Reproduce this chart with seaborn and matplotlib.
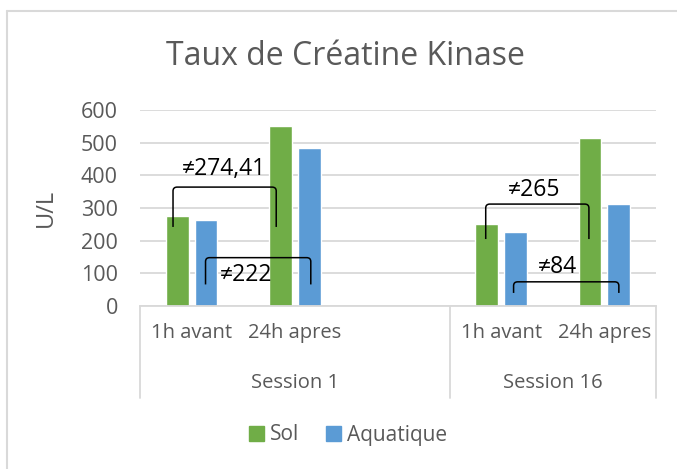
import matplotlib
matplotlib.use("Agg")
import matplotlib.pyplot as plt
import seaborn as sns
import pandas as pd
from matplotlib.path import Path
from matplotlib.patches import PathPatch, Rectangle
from matplotlib.lines import Line2D
import matplotlib.transforms as mtransforms

# ---- data ----
slots = ["S1-1h", "S1-24h", "S1-gap", "S16-1h", "S16-24h"]
slot_labels = ["1h avant", "24h apres", "", "1h avant", "24h apres"]
sessions = ["Session 1", "Session 16"]
session_spans = [(-0.5, 2.5), (2.5, 4.5)]
series = ["Sol", "Aquatique"]
sol_values = [277, 551, 250, 515]
aqua_values = [263, 485, 226, 311]
data_slots = ["S1-1h", "S1-24h", "S16-1h", "S16-24h"]
title = "Taux de Créatine Kinase"
ylabel = "U/L"
yticks = [0, 100, 200, 300, 400, 500, 600]

# annotations: (x_left, x_right, y_bottom, y_top, text, text_x, text_y)
brackets = [
    (-0.18, 0.82, 242, 364, "≠274,41", 0.31, 419),
    (0.135, 1.155, 66, 148, "≠222", 0.53, 95),
    (2.85, 3.85, 205, 312, "≠265", 3.32, 355),
    (3.12, 4.14, 40, 74, "≠84", 3.54, 120),
]

colors = {"Sol": "#70AD47", "Aquatique": "#5B9BD5"}
gray = "#595959"
lgray = "#D9D9D9"

df = pd.DataFrame({
    "slot": data_slots * 2,
    "serie": ["Sol"] * 4 + ["Aquatique"] * 4,
    "value": sol_values + aqua_values,
})

sns.set_theme(style="white")
plt.rcParams["font.family"] = ["Open Sans", "DejaVu Sans"]

W, H = 677, 469
fig = plt.figure(figsize=(W / 100, H / 100), dpi=100)
ax = fig.add_axes([140 / W, 1 - 306 / H, 516 / W, 196 / H])

sns.barplot(data=df, x="slot", y="value", hue="serie", order=slots,
            hue_order=series, palette=colors, width=0.56, gap=0.21,
            saturation=1, ax=ax, legend=False, errorbar=None)

ax.set_xlim(-0.5, 4.5)
ax.set_ylim(0, 600)
ax.set_yticks(yticks)
ax.set_yticklabels([str(v) for v in yticks], color=gray, fontsize=15.5)
ax.tick_params(axis="y", length=0, pad=16)
ax.yaxis.grid(True, color=lgray, linewidth=1.3)
ax.set_axisbelow(True)
ax.set_xticks(range(len(slots)))
ax.set_xticklabels(slot_labels, color=gray, fontsize=14.5)
ax.tick_params(axis="x", length=0, pad=12)
ax.set_xlabel("")
ax.set_ylabel(ylabel, color=gray, fontsize=17)
ax.yaxis.set_label_coords(-(140 - 58) / 516, 0.5)
for s in ["top", "right", "left"]:
    ax.spines[s].set_visible(False)
ax.spines["bottom"].set_color(lgray)
ax.spines["bottom"].set_linewidth(1.3)

# group separators and session labels
trans = mtransforms.blended_transform_factory(ax.transData, ax.transAxes)
ybot = -(398 - 306) / 196
for xb in [-0.5, 2.5, 4.5]:
    ax.plot([xb, xb], [0, ybot], color=lgray, lw=1.3, transform=trans, clip_on=False)
for name, (a, b) in zip(sessions, session_spans):
    ax.text((a + b) / 2, -(383 - 306) / 196, name, transform=trans, ha="center",
            va="center", color=gray, fontsize=14.5)

# brackets
rx, ry = 0.04, 12
for x0, x1, yb, yt, txt, tx, ty in brackets:
    verts = [(x0, yb), (x0, yt - ry), (x0, yt), (x0 + rx, yt),
             (x1 - rx, yt), (x1, yt), (x1, yt - ry), (x1, yb)]
    codes = [Path.MOVETO, Path.LINETO, Path.CURVE3, Path.CURVE3,
             Path.LINETO, Path.CURVE3, Path.CURVE3, Path.LINETO]
    ax.add_patch(PathPatch(Path(verts, codes), fill=False, edgecolor="black",
                           lw=1.1, clip_on=False))
    ax.text(tx, ty, txt, ha="center", va="center", color="black", fontsize=16.5)

# title
fig.text(345.5 / W, 1 - 65 / H, title, ha="center", va="baseline",
         color=gray, fontsize=23)

# legend
handles = [Rectangle((0, 0), 1, 1, color=colors[s]) for s in series]
leg = fig.legend(handles, series, loc="center", bbox_to_anchor=(348 / W, 1 - 435 / H),
                 ncol=2, frameon=False, fontsize=15, handlelength=0.7,
                 handleheight=0.7, handletextpad=0.3, columnspacing=1.3)
for t in leg.get_texts():
    t.set_color(gray)

# outer border (left and top visible)
fig.add_artist(Line2D([6.7 / W, 6.7 / W], [0, 1 - 11 / H], transform=fig.transFigure,
                      color=lgray, lw=1.5))
fig.add_artist(Line2D([6.7 / W, 1.0], [1 - 11 / H, 1 - 11 / H], transform=fig.transFigure,
                      color=lgray, lw=1.5))

fig.savefig("out.png", dpi=100, facecolor="white")
